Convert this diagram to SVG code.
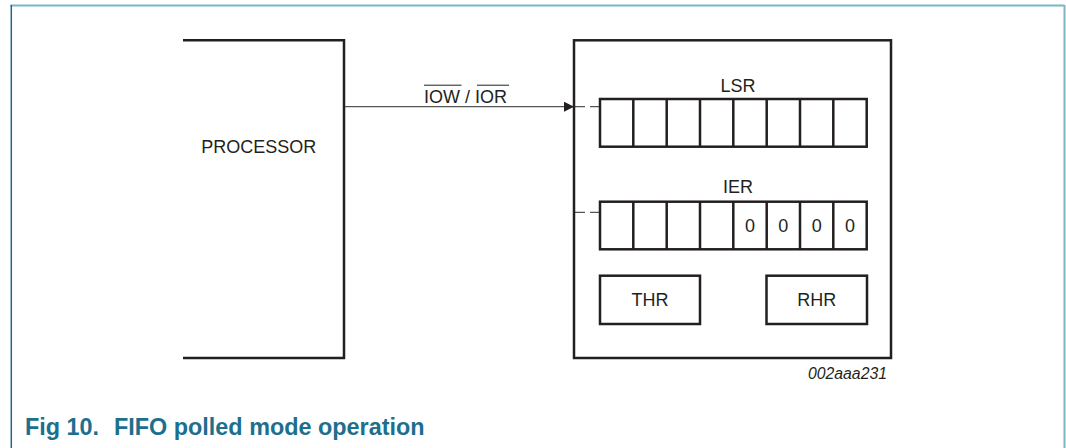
<svg xmlns="http://www.w3.org/2000/svg" width="1066" height="448" viewBox="0 0 1066 448">
<style>
text{font-family:"Liberation Sans",Arial,sans-serif;fill:#231f20}
.t{font-size:18px}
.box{fill:none;stroke:#231f20;stroke-width:2.5}
.cell{fill:none;stroke:#231f20;stroke-width:2.5}
.wire{fill:none;stroke:#555;stroke-width:1.2}
.dash{fill:none;stroke:#555;stroke-width:1.2;stroke-dasharray:10,5}
</style>
<defs>
<marker id="ah" viewBox="0 0 10 10" refX="10" refY="5" markerWidth="10" markerHeight="10" markerUnits="userSpaceOnUse" orient="auto">
<path d="M0,0 L10,5 L0,10 Z" fill="#231f20"/>
</marker>
</defs>
<rect width="1066" height="448" fill="#fff"/>
<g id="frame">
<line x1="10.5" y1="5.5" x2="1064.5" y2="5.5" stroke="#7ab6c3" stroke-width="2"/>
<line x1="11.3" y1="5" x2="11.3" y2="448" stroke="#1e6a8b" stroke-width="1.5"/>
<line x1="1064.5" y1="5" x2="1064.5" y2="448" stroke="#7ab6c3" stroke-width="2"/>
</g>
<g id="processor">
<path class="box" d="M183,40.3 H344 V358 H183"/>
<text class="t" x="258.7" y="153.3" text-anchor="middle">PROCESSOR</text>
</g>
<g id="connectors">
<line class="wire" x1="345" y1="106.7" x2="574" y2="106.7" marker-end="url(#ah)"/>
<path class="dash" d="M575,106.7 H600"/>
<path class="dash" d="M575,212.3 H600"/>
</g>
<g id="bus-label">
<text class="t" x="424" y="102.7">IOW / IOR</text>
<line x1="424" y1="85.2" x2="461.5" y2="85.2" stroke="#231f20" stroke-width="1"/>
<line x1="477" y1="85.2" x2="509" y2="85.2" stroke="#231f20" stroke-width="1"/>
</g>
<g id="device">
<rect class="box" x="574" y="40.3" width="317" height="317.7"/>
</g>
<g id="lsr">
<text class="t" x="738" y="91.7" text-anchor="middle">LSR</text>
<rect class="cell" x="600" y="99" width="266.7" height="47.7"/>
<path class="cell" d="M633.3,99V146.7 M666.7,99V146.7 M700,99V146.7 M733.3,99V146.7 M766.7,99V146.7 M800,99V146.7 M833.3,99V146.7"/>
</g>
<g id="ier">
<text class="t" x="738" y="193.3" text-anchor="middle">IER</text>
<rect class="cell" x="600" y="201.7" width="266.7" height="47.6"/>
<path class="cell" d="M633.3,201.7V249.3 M666.7,201.7V249.3 M700,201.7V249.3 M733.3,201.7V249.3 M766.7,201.7V249.3 M800,201.7V249.3 M833.3,201.7V249.3"/>
<text class="t" x="750" y="231.7" text-anchor="middle">0</text>
<text class="t" x="783.3" y="231.7" text-anchor="middle">0</text>
<text class="t" x="816.7" y="231.7" text-anchor="middle">0</text>
<text class="t" x="850" y="231.7" text-anchor="middle">0</text>
</g>
<g id="thr">
<rect class="cell" x="600" y="275.7" width="100" height="48.3"/>
<text class="t" x="650" y="306" text-anchor="middle">THR</text>
</g>
<g id="rhr">
<rect class="cell" x="766.5" y="275.7" width="100.5" height="48.3"/>
<text class="t" x="816.7" y="306" text-anchor="middle">RHR</text>
</g>
<text x="887" y="379.3" text-anchor="end" font-size="15.8" font-style="italic">002aaa231</text>
<text x="25" y="435" font-size="23.4" font-weight="bold" style="fill:#1d6f8e">Fig 10.<tspan x="114">FIFO polled mode operation</tspan></text>
</svg>
